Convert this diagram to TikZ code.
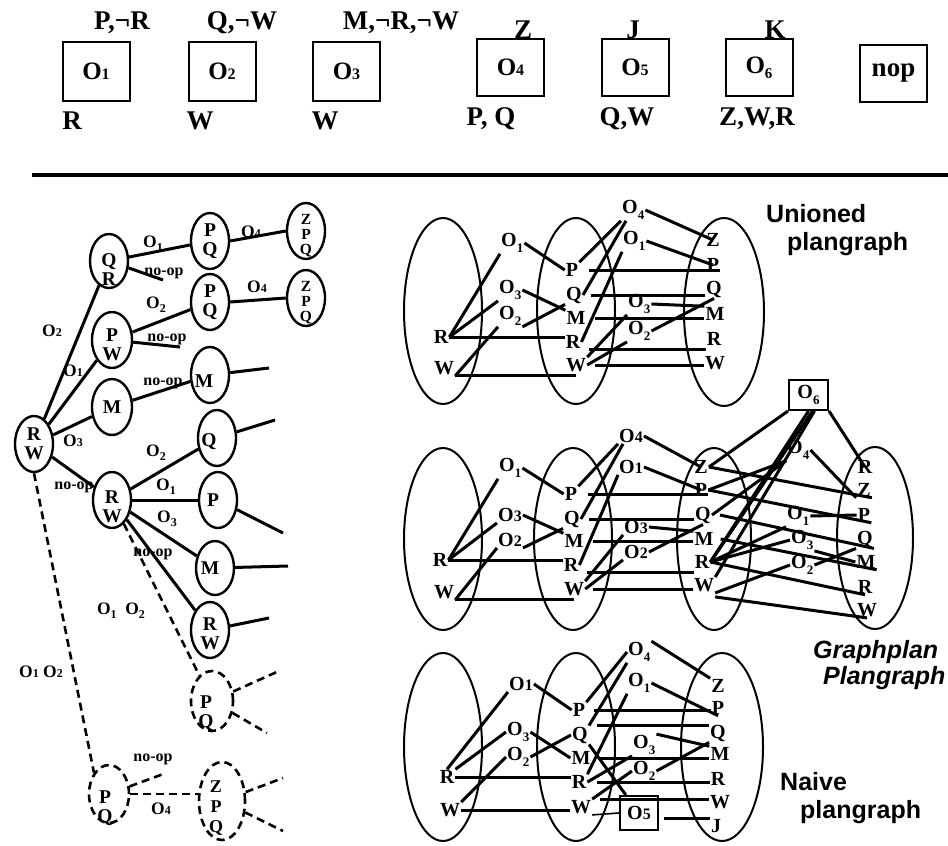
\documentclass[tikz,border=0pt]{standalone}
\usepackage{fontspec}
\setmainfont{Liberation Serif}
\newfontfamily\sansf{Liberation Sans}
\usetikzlibrary{shapes.geometric}
\newcommand\fs[1]{\fontsize{#1}{#1}\selectfont}
% small digit on the baseline
\newcommand\sd[1]{{\fs{16}#1}}
% small digit on the baseline, tree labels
\newcommand\tdg[1]{{\fs{12}#1}}
% lowered digit, tree labels
\newcommand\tsb[1]{\raisebox{-0.25em}{\fs{12}#1}}
% lowered digit, plan graph operators
\newcommand\ld[1]{\raisebox{-0.3em}{\fs{13}#1}}

\tikzset{
  lk/.style={line width=3pt},
  thinlk/.style={line width=1.6pt},
  dsh/.style={line width=2.6pt, dash pattern=on 8pt off 5pt},
  opbox/.style={draw, line width=2pt, minimum width=67pt, minimum height=59pt, inner sep=0pt, font=\bfseries\fs{25}},
  tt/.style={inner sep=0pt, font=\bfseries\fs{27}},
  tn/.style={draw, ellipse, line width=2.4pt, inner sep=0pt, minimum width=38pt, minimum height=56pt},
  tnt/.style={inner sep=0pt, align=center, font=\bfseries\fontsize{19.5}{19}\selectfont},
  zpt/.style={inner sep=0pt, align=center, font=\bfseries\fontsize{15.5}{15}\selectfont},
  tl/.style={inner sep=0pt, font=\bfseries\fs{17.5}},
  nl/.style={inner sep=0pt, font=\bfseries\fs{16}},
  pg/.style={draw, ellipse, line width=2pt, inner sep=0pt},
  pl/.style={inner sep=1pt, font=\bfseries\fs{20}},
  ol/.style={inner sep=1pt, anchor=west, font=\bfseries\fs{20}},
  sbox/.style={draw, line width=2pt, inner sep=0pt, font=\bfseries\fs{20}},
  ttl/.style={inner sep=0pt, anchor=base west, font=\sansf\bfseries\fs{25}},
  ttli/.style={inner sep=0pt, anchor=base west, font=\sansf\bfseries\itshape\fs{25}},
}

\begin{document}
\begin{tikzpicture}[x=1pt,y=-1pt]
\useasboundingbox (0,0) rectangle (948,846);

% ================= operator legend =================
\node[opbox] (op1) at (96,71.5) {O\sd{1}};
\node[opbox] (op2) at (222,71.5) {O\sd{2}};
\node[opbox] (op3) at (346.5,71.5) {O\sd{3}};
\node[opbox, minimum height=57pt] (op4) at (510.5,67.5) {O\sd{4}};
\node[opbox, minimum height=57pt] (op5) at (635,67.5) {O\sd{5}};
\node[opbox, minimum height=57pt] (op6) at (759,67.5) {O\raisebox{-0.2em}{\fs{15}6}};
\node[opbox, minimum height=57pt, font=\bfseries\fs{27}] (nop) at (893.5,73.5) {nop};

\node[tt] (ef1) at (122,23) {P,¬R};
\node[tt] (pc1) at (72,121) {R};
\node[tt] (ef2) at (242,23) {Q,¬W};
\node[tt] (pc2) at (200,121) {W};
\node[tt] (ef3) at (401,23) {M,¬R,¬W};
\node[tt] (pc3) at (325,121) {W};
\node[tt] (ef4) at (523,30) {Z};
\node[tt] (pc4) at (491,119) {P, Q};
\node[tt] (ef5) at (633,30) {J};
\node[tt] (pc5) at (627,119) {Q,W};
\node[tt] (ef6) at (775,30) {K};
\node[tt] (pc6) at (757,119) {Z,W,R};

\coordinate (divL) at (32,175);
\coordinate (divR) at (948,175);
\draw[line width=3.5pt] (divL) -- (divR);

% ================= search tree =================
\node[tn, label={[tnt]center:R\\W}] (rw) at (34,444) {};
\node[tn, minimum height=54pt, label={[tnt, yshift=-9pt]center:Q\\R}] (qr) at (109,261) {};
\node[tn, minimum width=40pt, label={[tnt, yshift=-5pt]center:P\\W}] (pw) at (112,340) {};
\node[tn, minimum width=40pt, label={[tnt]center:M}] (m1) at (112,407) {};
\node[tn, label={[tnt, yshift=-7pt]center:R\\W}] (rw2) at (112,500) {};
\node[tn, label={[tnt]center:P\\Q}] (pq1) at (210,241) {};
\node[tn, label={[tnt]center:P\\Q}] (pq2) at (210,302) {};
\node[tn, label={[tnt, xshift=-6pt, yshift=-6pt]center:M}] (m2) at (210,375) {};
\node[tn, label={[zpt, yshift=-5pt]center:Z\\P\\Q}] (zpq1) at (306,231) {};
\node[tn, label={[zpt, yshift=-5pt]center:Z\\P\\Q}] (zpq2) at (306,298) {};
\node[tn, label={[tnt, xshift=-8pt, yshift=-4pt]center:Q}] (q3) at (217,438) {};
\node[tn, label={[tnt, xshift=-5pt]center:P}] (p3) at (218,500) {};
\node[tn, minimum height=54pt, label={[tnt, xshift=-5pt]center:M}] (m3) at (215,568) {};
\node[tn, label={[tnt, yshift=-4pt]center:R\\W}] (rw3) at (210,630) {};
\node[tn, dsh, minimum width=42pt, minimum height=60pt, label={[tnt, xshift=-6pt, yshift=-12pt]center:P\\Q}] (pqd) at (212,701) {};
\node[tn, dsh, minimum width=40pt, minimum height=58pt, label={[tnt, xshift=-4pt, yshift=-14pt]center:P\\Q}] (pqb) at (109,794) {};
\node[tn, dsh, minimum width=46pt, minimum height=78pt, label={[tnt, xshift=-6pt, yshift=-7pt, font=\bfseries\fontsize{18}{20}\selectfont]center:Z\\P\\Q}] (zpqb) at (222,801) {};

% loose ends of unexpanded branches
\coordinate (sqr) at (163,280);
\coordinate (spw) at (180,347);
\coordinate (sm2) at (269,368);
\coordinate (sq3) at (275,420);
\coordinate (sp3) at (283,533);
\coordinate (sm3) at (288,566);
\coordinate (srw3) at (269,618);
\coordinate (spd1) at (279,671);
\coordinate (spd2) at (267,733);
\coordinate (spqb) at (166,773);
\coordinate (szb1) at (283,778);
\coordinate (szb2) at (283,831);

\draw[lk] (rw) -- (qr);
\draw[lk] (rw) -- (pw);
\draw[lk] (rw) -- (m1);
\draw[lk] (rw) -- (rw2);
\draw[lk] (qr) -- (pq1);
\draw[lk] (qr) -- (sqr);
\draw[lk] (pq1.east) -- (zpq1.west);
\draw[lk] (pw) -- (pq2);
\draw[lk] (pw) -- (spw);
\draw[lk] (pq2.east) -- (zpq2.west);
\draw[lk] (m1) -- (m2);
\draw[lk] (m2) -- (sm2);
\draw[lk] (rw2) -- (q3);
\draw[lk] (rw2) -- (p3);
\draw[lk] (rw2) -- (m3);
\draw[lk] (rw2) -- (rw3);
\draw[lk] (q3) -- (sq3);
\draw[lk] (p3) -- (sp3);
\draw[lk] (m3) -- (sm3);
\draw[lk] (rw3) -- (srw3);
\draw[dsh] (rw2) -- (pqd);
\draw[dsh] (pqd) -- (spd1);
\draw[dsh] (pqd) -- (spd2);
\draw[dsh] (rw.south) -- (pqb.north west);
\draw[dsh] (pqb.east) -- (pqb.east -| zpqb.west);
\draw[dsh] (pqb) -- (spqb);
\draw[dsh] (zpqb) -- (szb1);
\draw[dsh] (zpqb) -- (szb2);

% edge labels
\node[tl] (la1) at (52,331) {O\tdg{2}};
\node[tl] (la2) at (73,371) {O\tdg{1}};
\node[tl] (la3) at (73,441) {O\tdg{3}};
\node[nl] (la4) at (74,487) {no-op};
\node[tl] (la5) at (153,244) {O\tsb{1}};
\node[nl] (la6) at (164,273) {no-op};
\node[tl] (la7) at (156,305) {O\tsb{2}};
\node[nl] (la8) at (167,339) {no-op};
\node[nl] (la9) at (163,383) {no-op};
\node[tl] (la10) at (251,232) {O\tdg{4}};
\node[tl] (la11) at (257,287) {O\tdg{4}};
\node[tl] (la12) at (156,453) {O\tsb{2}};
\node[tl] (la13) at (166,487) {O\tsb{1}};
\node[tl] (la14) at (167,519) {O\tsb{3}};
\node[nl] (la15) at (153,554) {no-op};
\node[tl] (la16) at (121,611) {O\tsb{1}\ \ O\tsb{2}};
\node[tl] (la17) at (41,672) {O\tdg{1}\ O\tdg{2}};
\node[nl] (la18) at (153,759) {no-op};
\node[tl] (la19) at (161,809) {O\tdg{4}};

% ================= unioned plangraph =================
\node[pg, minimum width=78pt, minimum height=186pt] (uE0) at (443,311) {};
\node[pg, minimum width=78pt, minimum height=186pt] (uE1) at (576,311) {};
\node[pg, minimum width=80pt, minimum height=188pt] (uE2) at (724,312) {};
\node[pl] (uR0) at (441,337) {R};
\node[pl] (uW0) at (444,368) {W};
\node[ol] (uO1a) at (500,243) {O\ld{1}};
\node[ol] (uO3a) at (498,290) {O\ld{3}};
\node[ol] (uO2a) at (498,316) {O\ld{2}};
\node[pl] (uP1) at (572,270) {P};
\node[pl] (uQ1) at (574,295) {Q};
\node[pl] (uM1) at (576,318) {M};
\node[pl] (uR1) at (573,342) {R};
\node[pl] (uW1) at (576,365) {W};
\node[ol] (uO4b) at (621,210) {O\ld{4}};
\node[ol] (uO1b) at (622,241) {O\ld{1}};
\node[ol] (uO3b) at (627,304) {O\ld{3}};
\node[ol] (uO2b) at (627,331) {O\ld{2}};
\node[pl] (uZ2) at (713,240) {Z};
\node[pl] (uP2) at (713,265) {P};
\node[pl] (uQ2) at (714,289) {Q};
\node[pl] (uM2) at (715,314) {M};
\node[pl] (uR2) at (714,339) {R};
\node[pl] (uW2) at (715,363) {W};

\draw[lk] (uR0.east) -- (uO1a.south west);
\draw[lk] (uR0.east) -- (uO3a.south west);
\draw[lk] (uR0.east) -- (uR0.east -| uR1.west);
\draw[lk] (uW0.south east) -- (uO2a.south west);
\draw[lk] (uW0.south east) -- (uW0.south east -| uW1.center);
\draw[lk] (uO1a.east) -- (uP1.west);
\draw[lk] (uO3a.east) -- (uM1.north west);
\draw[lk] (uO2a.south east) -- (uQ1.south west);
\draw[lk] (uP1.north east) -- (uO4b.south west);
\draw[lk] (uQ1.east) -- ([xshift=5pt]uO4b.south west);
\draw[lk] (uR1.east) -- (uO1b.south west);
\draw[lk] (uW1.north east) -- (uO3b.south west);
\draw[lk] (uW1.east) -- (uO2b.south west);
\draw[lk] ([xshift=10pt]uP1.east) -- (uP1.east -| uP2.east);
\draw[lk] ([xshift=8pt]uQ1.east) -- (uQ1.east -| uQ2.west);
\draw[lk] ([xshift=8pt]uM1.east) -- (uM1.east -| uM2.west);
\draw[lk] ([xshift=8pt]uR1.south east) -- (uR1.south east -| uR2.west);
\draw[lk] ([xshift=8pt]uW1.east) -- (uW1.east -| uW2.west);
\draw[lk] (uO4b.east) -- (uZ2.center);
\draw[lk] (uO1b.east) -- (uP2.center);
\draw[lk] (uO3b.east) -- (uM2.north west);
\draw[lk] (uO2b.east) -- (uQ2.south);

\node[ttl] (uT1) at (766,222) {Unioned};
\node[ttl] (uT2) at (787,250) {plangraph};

% ================= Graphplan plangraph =================
\node[pg, minimum width=78pt, minimum height=182pt] (gE0) at (443,539) {};
\node[pg, minimum width=78pt, minimum height=182pt] (gE1) at (573,539) {};
\node[pg, minimum width=74pt, minimum height=182pt] (gE2) at (714,539) {};
\node[pg, minimum width=76pt, minimum height=182pt] (gE3) at (875,538) {};
\node[pl] (gR0) at (440,560) {R};
\node[pl] (gW0) at (444,592) {W};
\node[ol] (gO1a) at (498,468) {O\ld{1}};
\node[ol] (gO3a) at (497,515) {O\sd{3}};
\node[ol] (gO2a) at (497,540) {O\sd{2}};
\node[pl] (gP1) at (571,494) {P};
\node[pl] (gQ1) at (572,519) {Q};
\node[pl] (gM1) at (574,541) {M};
\node[pl] (gR1) at (571,565) {R};
\node[pl] (gW1) at (574,589) {W};
\node[ol] (gO4b) at (618,436) {O\sd{4}};
\node[ol] (gO1b) at (618,467) {O\sd{1}};
\node[ol] (gO3b) at (623,527) {O\sd{3}};
\node[ol] (gO2b) at (623,552) {O\sd{2}};
\node[pl] (gZ2) at (701,467) {Z};
\node[pl] (gP2) at (701,490) {P};
\node[pl] (gQ2) at (703,515) {Q};
\node[pl] (gM2) at (704,539) {M};
\node[pl] (gR2) at (702,562) {R};
\node[pl] (gW2) at (704,585) {W};
\node[sbox, minimum width=39pt, minimum height=30pt] (gO6) at (808.5,395) {O\ld{6}};
\node[ol] (gO4c) at (786,450) {O\ld{4}};
\node[ol] (gO1c) at (786,516) {O\ld{1}};
\node[ol] (gO3c) at (790,540) {O\ld{3}};
\node[ol] (gO2c) at (790,565) {O\ld{2}};
\node[pl] (gR3t) at (865,467) {R};
\node[pl] (gZ3) at (864,490) {Z};
\node[pl] (gP3) at (864,515) {P};
\node[pl] (gQ3) at (865,539) {Q};
\node[pl] (gM3) at (866,562) {M};
\node[pl] (gR3) at (865,587) {R};
\node[pl] (gW3) at (867,610) {W};

\draw[lk] (gR0.east) -- (gO1a.south west);
\draw[lk] (gR0.east) -- (gO3a.south west);
\draw[lk] (gR0.east) -- (gR0.east -| gR1.west);
\draw[lk] (gW0.south east) -- (gO2a.south west);
\draw[lk] (gW0.south east) -- (gW0.south east -| gW1.center);
\draw[lk] (gO1a.east) -- (gP1.west);
\draw[lk] (gO3a.east) -- (gM1.north west);
\draw[lk] (gO2a.south east) -- (gQ1.south west);
\draw[lk] (gP1.north east) -- (gO4b.south west);
\draw[lk] (gQ1.east) -- ([xshift=5pt]gO4b.south west);
\draw[lk] (gR1.east) -- (gO1b.south west);
\draw[lk] (gW1.north east) -- (gO3b.south west);
\draw[lk] (gW1.east) -- (gO2b.south west);
\draw[lk] ([xshift=10pt]gP1.east) -- (gP1.east -| gP2.east);
\draw[lk] ([xshift=8pt]gQ1.east) -- (gQ1.east -| gQ2.west);
\draw[lk] ([xshift=8pt]gM1.east) -- (gM1.east -| gM2.west);
\draw[lk] ([xshift=8pt]gR1.south east) -- (gR1.south east -| gR2.west);
\draw[lk] ([xshift=8pt]gW1.east) -- (gW1.east -| gW2.west);
\draw[lk] (gO4b.east) -- (gZ2.center);
\draw[lk] (gO1b.east) -- (gP2.center);
\draw[lk] (gO3b.east) -- (gM2.north west);
\draw[lk] (gO2b.east) -- (gQ2.south);
% second step
\draw[lk] (gO6.south west) -- (gZ2.east);
\draw[lk] (gO6.south) -- (gR2.east);
\draw[lk] ([xshift=4pt]gO6.south) -- (gR2.east);
\draw[lk] ([xshift=6pt]gO6.south) -- (gW2.north east);
\draw[lk] (gO6.south east) -- (gR3t.center);
\draw[lk] (gP2.east) -- (gO4c.south west);
\draw[lk] (gQ2.east) -- (gO4c.south west);
\draw[lk] (gR2.east) -- (gO4c.west);
\draw[lk] (gR2.east) -- (gO1c.south west);
\draw[lk] (gR2.east) -- (gO3c.west);
\draw[lk] (gW2.south east) -- (gO2c.west);
\draw[lk] (gZ2.east) -- (gZ3.south east);
\draw[lk] (gP2.east) -- (gP3.south east);
\draw[lk] ([xshift=8pt]gQ2.east) -- (gQ3.south east);
\draw[lk] ([xshift=6pt]gM2.east) -- (gM3.south east);
\draw[lk] (gR2.east) -- (gR3.south);
\draw[lk] ([yshift=-4pt]gW2.south east) -- (gW3.south);
\draw[lk] (gO4c.east) -- (gZ3.south west);
\draw[lk] (gO1c.east) -- (gP3.west);
\draw[lk] (gO3c.south east) -- (gM3.west);
\draw[lk] (gO2c.east) -- (gQ3.south west);

\node[ttli] (gT1) at (813,658) {Graphplan};
\node[ttli] (gT2) at (823,684) {Plangraph};

% ================= naive plangraph =================
\node[pg, minimum width=78pt, minimum height=188pt] (nE0) at (443,747) {};
\node[pg, minimum width=78pt, minimum height=188pt] (nE1) at (576,747) {};
\node[pg, minimum width=82pt, minimum height=188pt] (nE2) at (722,747) {};
\node[pl] (nR0) at (447,777) {R};
\node[pl] (nW0) at (450,810) {W};
\node[ol] (nO1a) at (508,684) {O\sd{1}};
\node[ol] (nO3a) at (506,732) {O\ld{3}};
\node[ol] (nO2a) at (506,757) {O\ld{2}};
\node[pl] (nP1) at (579,710) {P};
\node[pl] (nQ1) at (580,735) {Q};
\node[pl] (nM1) at (581,758) {M};
\node[pl] (nR1) at (579,782) {R};
\node[pl] (nW1) at (581,807) {W};
\node[ol] (nO4b) at (627,652) {O\ld{4}};
\node[ol] (nO1b) at (627,683) {O\ld{1}};
\node[ol] (nO3b) at (632,745) {O\ld{3}};
\node[ol] (nO2b) at (632,771) {O\ld{2}};
\node[sbox, minimum width=38pt, minimum height=34pt] (nO5) at (639,813) {O\sd{5}};
\node[pl] (nZ2) at (718,686) {Z};
\node[pl] (nP2) at (718,708) {P};
\node[pl] (nQ2) at (718,733) {Q};
\node[pl] (nM2) at (720,754) {M};
\node[pl] (nR2) at (718,779) {R};
\node[pl] (nW2) at (720,802) {W};
\node[pl] (nJ2) at (716,826) {J};

\draw[lk] (nR0.north) -- (nO1a.south west);
\draw[lk] (nR0.north east) -- (nO3a.west);
\draw[lk] (nR0.east) -- (nR0.east -| nR1.west);
\draw[lk] (nW0.north east) -- (nO2a.west);
\draw[lk] (nW0.east) -- (nW0.east -| nW1.west);
\draw[lk] (nO1a.east) -- (nP1.west);
\draw[lk] (nO3a.east) -- (nM1.west);
\draw[lk] (nO2a.east) -- (nQ1.west);
\draw[lk] (nP1.north east) -- (nO4b.west);
\draw[lk] (nQ1.north east) -- (nO4b.south west);
\draw[lk] (nR1.north east) -- (nO1b.south west);
\draw[lk] (nR1.east) -- (nO3b.south west);
\draw[lk] (nW1.north east) -- (nO2b.west);
\draw[lk] (nQ1.south east) -- (nO5);
\draw[thinlk] (nW1.south east) -- (nO5.west);
\draw[lk] ([xshift=8pt]nP1.east) -- (nP1.east -| nP2.west);
\draw[lk] ([xshift=8pt]nQ1.north east) -- (nQ1.north east -| nQ2.west);
\draw[lk] ([xshift=8pt]nM1.east) -- (nM1.east -| nM2.west);
\draw[lk] ([xshift=10pt]nR1.east) -- (nR1.east -| nR2.west);
\draw[lk] ([xshift=8pt]nW1.north east) -- (nW1.north east -| nW2.west);
\draw[lk] (nO4b.north east) -- (nZ2.north west);
\draw[lk] (nO1b.east) -- (nP2.south);
\draw[lk] (nO3b.north east) -- (nM2.north west);
\draw[lk] (nO2b.east) -- (nQ2.south west);
\draw[lk] ([xshift=5pt]nO5.east |- nJ2.north) -- (nJ2.north west);

\node[ttl] (nT1) at (780,790) {Naive};
\node[ttl] (nT2) at (800,818) {plangraph};
\end{tikzpicture}
\end{document}
